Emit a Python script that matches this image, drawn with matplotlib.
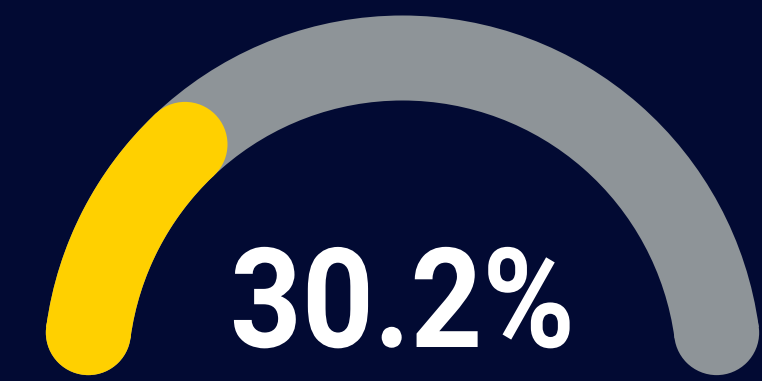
import numpy as np
import matplotlib
matplotlib.use("Agg")
import matplotlib.pyplot as plt
from matplotlib.patches import Wedge, Circle
from matplotlib.patheffects import AbstractPathEffect
from matplotlib.transforms import Affine2D

# Data
value = 30.2          # percent
max_value = 100.0
label = "30.2%"

BG = "#020A33"
TRACK = "#8E9498"
FILL = "#FFD000"

W, H = 762, 381
fig = plt.figure(figsize=(W / 100, H / 100), dpi=100, facecolor=BG)
ax = fig.add_axes([0, 0, 1, 1])
ax.set_xlim(0, W)
ax.set_ylim(0, H)
ax.set_facecolor(BG)
ax.axis("off")

cx, cy = 402.5, 6.0
R = 317.0
hw = 42.5
cap = np.degrees(hw / R)


def arc(theta_start, theta_end, color, z):
    t1, t2 = min(theta_start, theta_end), max(theta_start, theta_end)
    ax.add_patch(Wedge((cx, cy), R + hw, t1, t2, width=2 * hw,
                       facecolor=color, edgecolor="none", zorder=z))
    for t in (t1, t2):
        tr = np.radians(t)
        ax.add_patch(Circle((cx + R * np.cos(tr), cy + R * np.sin(tr)), hw,
                            facecolor=color, edgecolor="none", zorder=z))


start = 180 - cap
end_full = cap
end_val = 180 - value / max_value * 180 + cap
arc(start, end_full, TRACK, 1)
arc(start, end_val, FILL, 2)


class HScale(AbstractPathEffect):
    """Draw text condensed horizontally around a display x position."""
    def __init__(self, sx, x0):
        super().__init__()
        self.sx = sx
        self.x0 = x0

    def draw_path(self, renderer, gc, tpath, affine, rgbFace=None):
        t = affine + Affine2D().translate(-self.x0, 0).scale(self.sx, 1).translate(self.x0, 0)
        renderer.draw_path(gc, tpath, t, rgbFace)


txt = ax.text(cx, 381 - 347, label, ha="center", va="baseline", color="white",
              fontsize=100, fontweight="bold", family=["Roboto", "DejaVu Sans"],
              zorder=3)
fig.canvas.draw()
bb = txt.get_window_extent()
sx = 345.0 / bb.width
x0 = ax.transData.transform((cx, 0))[0]
txt.set_path_effects([HScale(sx, x0)])

fig.savefig("out.png", dpi=100, facecolor=BG)
